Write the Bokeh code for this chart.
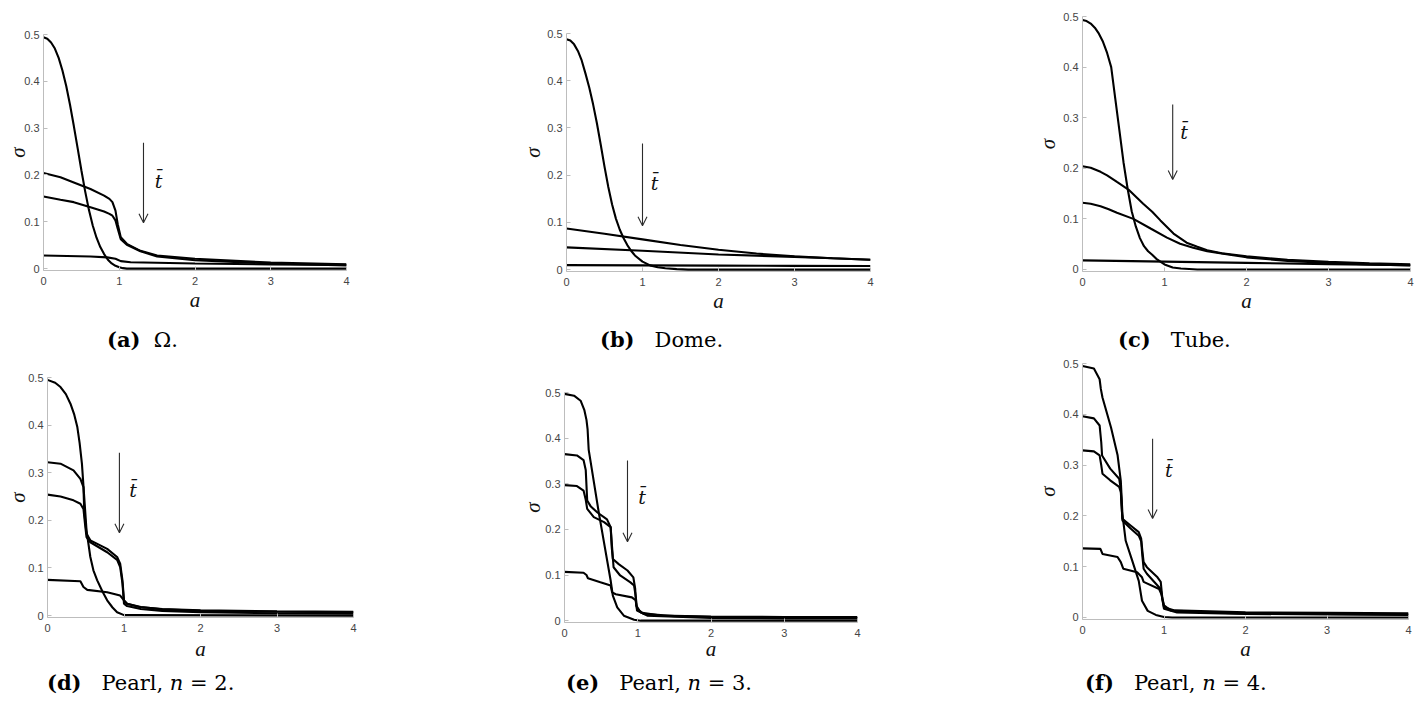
from bokeh.plotting import figure
from bokeh.layouts import row, column
from bokeh.models import Range1d, FixedTicker, Arrow, OpenHead, Label, Div
from bokeh.embed import file_html
from bokeh.resources import INLINE

# ---------------- data ----------------
x_ticks = [0, 1, 2, 3, 4]
x_tick_labels = ["0", "1", "2", "3", "4"]
y_ticks = [0, 0.1, 0.2, 0.3, 0.4, 0.5]
y_tick_labels = ["0", "0.1", "0.2", "0.3", "0.4", "0.5"]
x_label = "a"
y_label = "σ"
arrow_label = "t̄"

# (a) Omega
om1_a = [0, 0.05, 0.1, 0.15, 0.2, 0.25, 0.3, 0.35, 0.4, 0.45, 0.5, 0.55, 0.6, 0.65, 0.7, 0.75, 0.8, 0.85, 0.9, 0.95, 1.0, 1.05, 1.1, 4]
om1_s = [0.494, 0.491, 0.483, 0.47, 0.45, 0.423, 0.39, 0.35, 0.305, 0.258, 0.21, 0.165, 0.125, 0.092, 0.066, 0.046, 0.031, 0.019, 0.011, 0.006, 0.003, 0.001, 0, 0]
om2_a = [0, 0.224, 0.4, 0.62, 0.8, 0.87, 0.91, 0.95, 0.98, 1.02, 1.1, 1.28, 1.5, 2, 3, 4]
om2_s = [0.204, 0.195, 0.184, 0.17, 0.156, 0.149, 0.142, 0.124, 0.095, 0.067, 0.053, 0.038, 0.028, 0.021, 0.013, 0.009]
om3_a = [0, 0.224, 0.4, 0.62, 0.8, 0.87, 0.91, 0.95, 0.98, 1.02, 1.1, 1.28, 1.5, 2, 3, 4]
om3_s = [0.154, 0.147, 0.142, 0.131, 0.122, 0.117, 0.113, 0.103, 0.085, 0.063, 0.051, 0.037, 0.026, 0.018, 0.011, 0.007]
om4_a = [0, 0.62, 0.84, 0.95, 1.02, 1.15, 2, 3, 4]
om4_s = [0.028, 0.026, 0.024, 0.021, 0.016, 0.0135, 0.011, 0.009, 0.008]

# (b) Dome
do1_a = [0, 0.05, 0.1, 0.15, 0.2, 0.25, 0.3, 0.35, 0.4, 0.45, 0.5, 0.55, 0.6, 0.65, 0.7, 0.75, 0.8, 0.85, 0.9, 1.0, 1.1, 1.2, 1.3, 1.45, 1.6, 4]
do1_s = [0.488, 0.485, 0.477, 0.463, 0.443, 0.415, 0.385, 0.35, 0.31, 0.265, 0.218, 0.175, 0.138, 0.108, 0.085, 0.067, 0.052, 0.04, 0.03, 0.017, 0.009, 0.005, 0.003, 0.001, 0, 0]
do2_a = [0, 0.5, 1, 1.5, 2, 2.5, 3, 3.5, 4]
do2_s = [0.087, 0.076, 0.064, 0.052, 0.042, 0.034, 0.028, 0.024, 0.021]
do3_a = [0, 1, 2, 3, 3.5, 4]
do3_s = [0.047, 0.040, 0.032, 0.027, 0.024, 0.021]
do4_a = [0, 1, 2, 3, 4]
do4_s = [0.0095, 0.009, 0.0085, 0.008, 0.0078]

# (c) Tube
tu1_a = [0, 0.05, 0.1, 0.15, 0.2, 0.25, 0.3, 0.35, 0.4, 0.45, 0.5, 0.55, 0.6, 0.65, 0.7, 0.75, 0.8, 0.85, 0.9, 1.0, 1.1, 1.2, 1.3, 1.4, 4]
tu1_s = [0.493, 0.491, 0.486, 0.478, 0.466, 0.45, 0.428, 0.4, 0.337, 0.275, 0.212, 0.16, 0.115, 0.085, 0.062, 0.046, 0.036, 0.029, 0.021, 0.01, 0.004, 0.002, 0.001, 0, 0]
tu2_a = [0, 0.1, 0.22, 0.3, 0.42, 0.56, 0.74, 0.85, 0.95, 1.11, 1.27, 1.4, 1.52, 1.7, 2, 2.5, 3, 3.5, 4]
tu2_s = [0.204, 0.201, 0.193, 0.186, 0.173, 0.158, 0.13, 0.114, 0.097, 0.071, 0.053, 0.045, 0.038, 0.032, 0.026, 0.019, 0.015, 0.012, 0.01]
tu3_a = [0, 0.1, 0.22, 0.32, 0.42, 0.62, 0.83, 1.03, 1.19, 1.35, 1.52, 2, 2.5, 3, 3.5, 4]
tu3_s = [0.132, 0.13, 0.125, 0.119, 0.112, 0.1, 0.081, 0.063, 0.051, 0.043, 0.036, 0.024, 0.017, 0.013, 0.01, 0.008]
tu4_a = [0, 1, 2, 3, 4]
tu4_s = [0.018, 0.0155, 0.013, 0.0105, 0.0085]

# (d) Pearl, n = 2
p2_1_a = [0, 0.1, 0.17, 0.24, 0.30, 0.35, 0.39, 0.42, 0.45, 0.48, 0.51, 0.56, 0.6, 0.65, 0.72, 0.78, 0.85, 0.91, 1.0, 4]
p2_1_s = [0.495, 0.489, 0.48, 0.465, 0.445, 0.422, 0.396, 0.362, 0.319, 0.249, 0.179, 0.123, 0.095, 0.074, 0.05, 0.032, 0.017, 0.007, 0.001, 0]
p2_2_a = [0, 0.17, 0.34, 0.43, 0.47, 0.48, 0.51, 0.56, 0.78, 0.91, 0.95, 0.98, 1.0, 1.04, 1.22, 1.5, 2, 3, 4]
p2_2_s = [0.322, 0.319, 0.305, 0.287, 0.27, 0.22, 0.172, 0.158, 0.14, 0.123, 0.109, 0.074, 0.032, 0.025, 0.018, 0.013, 0.01, 0.008, 0.007]
p2_3_a = [0, 0.17, 0.34, 0.43, 0.47, 0.49, 0.51, 0.56, 0.78, 0.91, 0.95, 0.98, 1.0, 1.04, 1.22, 1.5, 2, 3, 4]
p2_3_s = [0.254, 0.25, 0.242, 0.235, 0.224, 0.193, 0.165, 0.154, 0.133, 0.117, 0.102, 0.067, 0.025, 0.02, 0.014, 0.01, 0.007, 0.005, 0.004]
p2_4_a = [0, 0.43, 0.47, 0.52, 0.78, 0.95, 1.0, 1.04, 1.2, 1.5, 2, 3, 4]
p2_4_s = [0.075, 0.072, 0.06, 0.054, 0.049, 0.042, 0.032, 0.025, 0.018, 0.014, 0.011, 0.009, 0.008]

# (e) Pearl, n = 3
p3_1_a = [0, 0.13, 0.22, 0.27, 0.3, 0.315, 0.33, 0.47, 0.63, 0.66, 0.72, 0.81, 0.95, 1.04, 4]
p3_1_s = [0.497, 0.493, 0.482, 0.462, 0.44, 0.42, 0.375, 0.235, 0.088, 0.055, 0.029, 0.011, 0.002, 0, 0]
p3_2_a = [0, 0.17, 0.26, 0.29, 0.31, 0.36, 0.45, 0.58, 0.63, 0.645, 0.66, 0.74, 0.86, 0.94, 0.965, 0.98, 1.04, 1.31, 2, 3, 4]
p3_2_s = [0.365, 0.362, 0.352, 0.33, 0.263, 0.25, 0.237, 0.222, 0.205, 0.16, 0.135, 0.124, 0.11, 0.095, 0.07, 0.033, 0.018, 0.011, 0.009, 0.008, 0.008]
p3_3_a = [0, 0.17, 0.26, 0.29, 0.31, 0.4, 0.54, 0.63, 0.65, 0.67, 0.76, 0.9, 0.95, 0.975, 0.99, 1.13, 2, 3, 4]
p3_3_s = [0.297, 0.295, 0.285, 0.265, 0.245, 0.227, 0.216, 0.205, 0.16, 0.117, 0.099, 0.084, 0.077, 0.05, 0.022, 0.011, 0.006, 0.005, 0.005]
p3_4_a = [0, 0.26, 0.3, 0.32, 0.49, 0.63, 0.65, 0.70, 0.92, 0.97, 0.99, 1.08, 1.5, 2, 3, 4]
p3_4_s = [0.107, 0.105, 0.1, 0.093, 0.084, 0.077, 0.062, 0.058, 0.051, 0.045, 0.026, 0.015, 0.01, 0.008, 0.007, 0.006]

# (f) Pearl, n = 4
p4_1_a = [0, 0.14, 0.21, 0.225, 0.245, 0.35, 0.43, 0.47, 0.49, 0.53, 0.61, 0.69, 0.73, 0.8, 0.9, 1.0, 1.1, 4]
p4_1_s = [0.495, 0.49, 0.469, 0.45, 0.433, 0.374, 0.32, 0.269, 0.203, 0.151, 0.112, 0.072, 0.033, 0.013, 0.005, 0.001, 0, 0]
p4_2_a = [0, 0.14, 0.21, 0.23, 0.24, 0.34, 0.45, 0.47, 0.48, 0.49, 0.59, 0.69, 0.72, 0.735, 0.75, 0.79, 0.92, 0.96, 0.98, 1.0, 1.12, 2, 3, 4]
p4_2_s = [0.396, 0.392, 0.378, 0.345, 0.319, 0.293, 0.273, 0.253, 0.22, 0.194, 0.181, 0.168, 0.155, 0.13, 0.109, 0.099, 0.079, 0.07, 0.037, 0.02, 0.014, 0.01, 0.009, 0.008]
p4_3_a = [0, 0.14, 0.21, 0.23, 0.245, 0.34, 0.45, 0.47, 0.48, 0.49, 0.59, 0.69, 0.72, 0.735, 0.75, 0.79, 0.92, 0.96, 0.98, 1.0, 1.16, 2, 3, 4]
p4_3_s = [0.329, 0.327, 0.319, 0.3, 0.283, 0.27, 0.257, 0.247, 0.22, 0.191, 0.175, 0.161, 0.15, 0.12, 0.096, 0.086, 0.063, 0.056, 0.035, 0.017, 0.01, 0.007, 0.006, 0.005]
p4_4_a = [0, 0.22, 0.245, 0.43, 0.47, 0.5, 0.67, 0.73, 0.75, 0.94, 0.97, 1.0, 1.08, 1.5, 2, 3, 4]
p4_4_s = [0.136, 0.135, 0.125, 0.119, 0.109, 0.096, 0.089, 0.079, 0.07, 0.056, 0.045, 0.024, 0.014, 0.01, 0.008, 0.007, 0.006]

captions = [
    '<b>(a)</b>&nbsp;&nbsp;Ω.',
    '<b>(b)</b>&nbsp;&nbsp;&nbsp;Dome.',
    '<b>(c)</b>&nbsp;&nbsp;&nbsp;Tube.',
    '<b>(d)</b>&nbsp;&nbsp;&nbsp;Pearl, <i>n</i> = 2.',
    '<b>(e)</b>&nbsp;&nbsp;&nbsp;Pearl, <i>n</i> = 3.',
    '<b>(f)</b>&nbsp;&nbsp;&nbsp;Pearl, <i>n</i> = 4.',
]

# ---------------- layout / styling ----------------
X0, X1 = 0.0, 4.0
Y0, Y1 = -0.004, 0.5
AXIS_GRAY = "#bdbdbd"
SERIF = "Liberation Serif"
CAP_FONT = "DejaVu Serif"


def make_panel(fx, fy, W, H, fl, ft, fw, fh0, curves, arrow, tpos, ylab_sd, xlab_sd,
               caption, cap_left, cap_h, cap_top):
    fh = round(fh0 * (Y1 - Y0) / Y1)
    p = figure(width=W, height=H, output_backend="svg", toolbar_location=None,
               x_range=Range1d(X0, X1), y_range=Range1d(Y0, Y1),
               min_border_left=fl - fx, min_border_top=ft - fy,
               min_border_right=W - (fl - fx) - fw,
               min_border_bottom=H - (ft - fy) - fh)
    p.frame_align = False
    p.outline_line_color = None
    p.grid.visible = False

    p.xaxis.ticker = FixedTicker(ticks=x_ticks)
    p.xaxis.major_label_overrides = {t: l for t, l in zip(x_ticks, x_tick_labels)}
    p.yaxis.ticker = FixedTicker(ticks=y_ticks)
    p.yaxis.major_label_overrides = {t: l for t, l in zip(y_ticks, y_tick_labels)}
    for ax in (p.xaxis, p.yaxis):
        ax.axis_line_color = AXIS_GRAY
        ax.major_tick_line_color = AXIS_GRAY
        ax.major_tick_in = 4
        ax.major_tick_out = 0
        ax.minor_tick_line_color = None
        ax.major_label_text_color = "#454545"
        ax.major_label_text_font = "Liberation Sans"
        ax.major_label_text_font_size = "11px"
        ax.axis_label_text_font = SERIF
        ax.axis_label_text_font_style = "italic"
        ax.axis_label_text_font_size = "21px"
        ax.axis_label_text_color = "#111111"
    p.xaxis.major_label_standoff = 6
    p.yaxis.major_label_standoff = 4
    p.xaxis.axis_label = x_label
    p.yaxis.axis_label = y_label
    p.xaxis.axis_label_standoff = xlab_sd
    p.yaxis.axis_label_standoff = ylab_sd

    for xa, ys in curves:
        p.line(xa, ys, line_color="#000000", line_width=2.1)

    ax_x, ay0, ay1 = arrow
    p.add_layout(Arrow(x_start=ax_x, y_start=ay0, x_end=ax_x, y_end=ay1,
                       line_color="#2b2b2b", line_width=1.1,
                       end=OpenHead(size=9, line_color="#2b2b2b", line_width=1.1)))
    p.add_layout(Label(x=tpos[0], y=tpos[1], text=arrow_label, text_font="DejaVu Serif",
                       text_font_style="italic", text_font_size="19px", text_color="#111111",
                       text_align="center", text_baseline="middle"))

    cap = Div(text=f'<div style="padding-left:{cap_left - fx}px; padding-top:{cap_top}px; '
                   f'font-family:\'{CAP_FONT}\'; font-size:21px; line-height:24px; color:#000; '
                   f'white-space:nowrap;">{caption}</div>',
              width=W, height=cap_h, margin=0)
    return column(p, cap, spacing=0)


pa = make_panel(0, 0, 470, 320, 43, 34, 303, 234,
                [(om1_a, om1_s), (om2_a, om2_s), (om3_a, om3_s), (om4_a, om4_s)],
                (1.32, 0.269, 0.098), (1.52, 0.188), -9, 0, captions[0], 107, 35, 8)
pb = make_panel(470, 0, 520, 320, 566, 33, 304, 236,
                [(do1_a, do1_s), (do2_a, do2_s), (do3_a, do3_s), (do4_a, do4_s)],
                (1.0, 0.267, 0.093), (1.16, 0.184), -1, 0, captions[1], 600, 35, 8)
pc = make_panel(990, 0, 430, 320, 1082, 16, 328, 253,
                [(tu1_a, tu1_s), (tu2_a, tu2_s), (tu3_a, tu3_s), (tu4_a, tu4_s)],
                (1.10, 0.326, 0.178), (1.24, 0.271), 0, 0, captions[2], 1118, 35, 8)
pd = make_panel(0, 355, 470, 310, 47, 377, 306, 238,
                [(p2_1_a, p2_1_s), (p2_2_a, p2_2_s), (p2_3_a, p2_3_s), (p2_4_a, p2_4_s)],
                (0.94, 0.342, 0.174), (1.12, 0.263), -5, 2, captions[3], 47, 35, 6)
pe = make_panel(470, 355, 520, 310, 564, 392, 293, 228,
                [(p3_1_a, p3_1_s), (p3_2_a, p3_2_s), (p3_3_a, p3_3_s), (p3_4_a, p3_4_s)],
                (0.86, 0.351, 0.173), (1.06, 0.27), -3, -3, captions[4], 566, 35, 6)
pf = make_panel(990, 355, 430, 310, 1082, 363, 326, 254,
                [(p4_1_a, p4_1_s), (p4_2_a, p4_2_s), (p4_3_a, p4_3_s), (p4_4_a, p4_4_s)],
                (0.86, 0.352, 0.195), (1.06, 0.29), 0, 0, captions[5], 1085, 35, 6)

layout = column(row(pa, pb, pc, spacing=0), row(pd, pe, pf, spacing=0), spacing=0)
open("out.html", "w").write(file_html(layout, INLINE))
